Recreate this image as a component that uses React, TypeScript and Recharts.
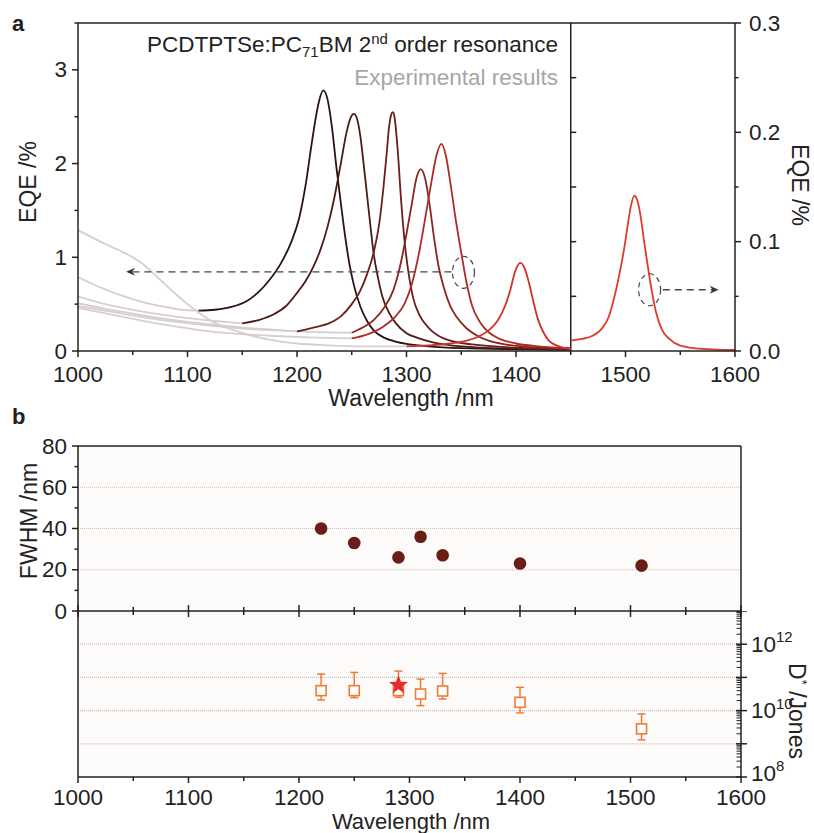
import React from "react";
import {
  ComposedChart, Line, Scatter, XAxis, YAxis, ReferenceLine, ReferenceDot, ReferenceArea, ErrorBar,
} from "recharts";

const FONT = "'Liberation Sans', Arial, Helvetica, sans-serif";
const INK = "#222";
const TICK_FS = 22.5;
const TITLE_FS = 23;

// ---- panel a: EQE spectra, [wavelength nm, EQE %] ----
// grey experimental lead-ins (left axis)
const gray1: [number, number][] = [[1000, 0.79], [1020, 0.68], [1040, 0.59], [1060, 0.52], [1080, 0.47], [1095, 0.44], [1110, 0.43]];
const gray2: [number, number][] = [[1000, 0.58], [1025, 0.5], [1050, 0.44], [1075, 0.39], [1100, 0.35], [1125, 0.32], [1150, 0.295]];
const gray3: [number, number][] = [[1000, 0.51], [1025, 0.45], [1050, 0.4], [1075, 0.35], [1100, 0.31], [1125, 0.28], [1150, 0.25], [1175, 0.23], [1200, 0.21]];
const gray4: [number, number][] = [[1000, 0.48], [1030, 0.42], [1060, 0.36], [1090, 0.31], [1120, 0.27], [1150, 0.24], [1180, 0.22], [1210, 0.205], [1250, 0.195]];
const gray5: [number, number][] = [[1000, 0.46], [1030, 0.39], [1060, 0.32], [1090, 0.26], [1120, 0.21], [1150, 0.18], [1180, 0.16], [1210, 0.145], [1250, 0.135]];
const gray6: [number, number][] = [[1000, 1.29], [1020, 1.17], [1040, 1.06], [1050, 1.0], [1060, 0.92], [1075, 0.76], [1090, 0.6], [1100, 0.5], [1110, 0.41], [1125, 0.3], [1140, 0.23], [1160, 0.16], [1180, 0.11], [1200, 0.08], [1230, 0.06], [1260, 0.05], [1300, 0.05]];

// simulated resonances (left axis)
const peak1: [number, number][] = [[1110, 0.43], [1125, 0.44], [1140, 0.47], [1155, 0.54], [1165, 0.63], [1175, 0.76], [1185, 0.93], [1195, 1.17], [1202, 1.42], [1208, 1.78], [1213, 2.18], [1217, 2.48], [1220, 2.66], [1224, 2.78], [1228, 2.68], [1232, 2.38], [1236, 1.96], [1240, 1.58], [1244, 1.22], [1248, 0.92], [1252, 0.7], [1258, 0.47], [1264, 0.32], [1270, 0.22], [1280, 0.14], [1290, 0.1], [1300, 0.075], [1320, 0.05], [1350, 0.03], [1400, 0.018], [1450, 0.012]];
const peak2: [number, number][] = [[1150, 0.295], [1165, 0.33], [1180, 0.4], [1190, 0.48], [1200, 0.62], [1208, 0.75], [1215, 0.9], [1222, 1.1], [1228, 1.33], [1234, 1.63], [1240, 2.0], [1245, 2.32], [1249, 2.49], [1252, 2.53], [1255, 2.47], [1258, 2.28], [1261, 1.98], [1264, 1.66], [1267, 1.34], [1270, 1.04], [1274, 0.78], [1278, 0.58], [1284, 0.41], [1290, 0.3], [1300, 0.19], [1310, 0.14], [1325, 0.09], [1350, 0.05], [1400, 0.025], [1450, 0.015]];
const peak3: [number, number][] = [[1200, 0.21], [1215, 0.25], [1230, 0.3], [1240, 0.37], [1250, 0.5], [1258, 0.65], [1264, 0.82], [1270, 1.05], [1275, 1.35], [1279, 1.75], [1282, 2.12], [1284, 2.38], [1286, 2.52], [1287.5, 2.55], [1289, 2.5], [1292, 2.14], [1295, 1.62], [1298, 1.2], [1302, 0.82], [1306, 0.57], [1312, 0.38], [1320, 0.25], [1328, 0.17], [1340, 0.11], [1360, 0.07], [1400, 0.035], [1450, 0.02]];
const peak4: [number, number][] = [[1250, 0.195], [1260, 0.25], [1270, 0.33], [1280, 0.47], [1288, 0.65], [1295, 0.95], [1300, 1.25], [1305, 1.58], [1309, 1.84], [1313, 1.94], [1317, 1.84], [1321, 1.57], [1325, 1.22], [1329, 0.92], [1334, 0.68], [1340, 0.48], [1346, 0.36], [1355, 0.24], [1365, 0.16], [1375, 0.11], [1390, 0.07], [1410, 0.045], [1450, 0.025]];
const peak5: [number, number][] = [[1250, 0.135], [1265, 0.18], [1280, 0.27], [1290, 0.37], [1298, 0.5], [1305, 0.72], [1312, 1.08], [1318, 1.48], [1323, 1.82], [1327, 2.07], [1332, 2.21], [1336, 2.08], [1340, 1.8], [1345, 1.4], [1350, 1.05], [1355, 0.72], [1360, 0.48], [1367, 0.31], [1375, 0.2], [1385, 0.13], [1400, 0.08], [1420, 0.05], [1450, 0.03]];
const peak6: [number, number][] = [[1300, 0.05], [1320, 0.06], [1340, 0.08], [1355, 0.11], [1365, 0.15], [1375, 0.22], [1383, 0.32], [1390, 0.48], [1395, 0.66], [1399, 0.84], [1404, 0.94], [1408, 0.88], [1412, 0.72], [1416, 0.52], [1420, 0.34], [1425, 0.2], [1430, 0.11], [1437, 0.06], [1445, 0.03], [1450, 0.02]];
// beyond 1450 nm (right axis)
const peakRight: [number, number][] = [[1450, 0.0094], [1460, 0.011], [1470, 0.014], [1478, 0.02], [1485, 0.032], [1490, 0.05], [1495, 0.073], [1499, 0.095], [1502, 0.115], [1505, 0.133], [1508, 0.142], [1511, 0.137], [1514, 0.122], [1517, 0.1], [1520, 0.08], [1524, 0.055], [1528, 0.035], [1533, 0.02], [1540, 0.011], [1550, 0.005], [1570, 0.002], [1600, 0.001]];

const grays = [gray1, gray2, gray3, gray4, gray5, gray6];
const peaks = [peak1, peak2, peak3, peak4, peak5, peak6];
const peakColors = ["#2b1512", "#4b1b17", "#6a1f1b", "#8c2520", "#ae2b25", "#cf3129"];

const xTicks = [1000, 1050, 1100, 1150, 1200, 1250, 1300, 1350, 1400, 1450, 1500, 1550, 1600];
const eqeLeftTicks = [0, 0.5, 1, 1.5, 2, 2.5, 3, 3.5];
const eqeRightTicks = [0, 0.05, 0.1, 0.15, 0.2, 0.25, 0.3];
const dividerTicks = [0.05, 0.1, 0.15, 0.2, 0.25];

// ---- panel b: FWHM and detectivity ----
const resWl = [1220, 1250, 1290, 1310, 1330, 1400, 1510];
const fwhm = [40, 33, 26, 36, 27, 23, 22];
const fwhmTicks = [0, 10, 20, 30, 40, 50, 60, 70, 80];
const fwhmGrid = [20, 40, 60];

// log10 of D* (Jones)
const detLog = [10.6, 10.6, 10.6, 10.5, 10.59, 10.25, 9.45];
const detLogLow = [10.32, 10.39, 10.4, 10.15, 10.35, 9.93, 9.12];
const detLogHigh = [11.1, 11.15, 11.19, 10.95, 11.12, 10.7, 9.9];
const starWl = [1290];
const starLog = [10.77];
const detExp = [8, 9, 10, 11, 12, 13];
const detLabelExp = [8, 10, 12];
const detGrid = [1e9, 1e10, 1e11, 1e12];

const toPts = (a: [number, number][]) => a.map(([x, y]) => ({ x, y }));
const fwhmData = resWl.map((x, i) => ({ x, y: fwhm[i] }));
const detData = resWl.map((x, i) => {
  const y = Math.pow(10, detLog[i]);
  return { x, y, err: [y - Math.pow(10, detLogLow[i]), Math.pow(10, detLogHigh[i]) - y] };
});
const starData = starWl.map((x, i) => ({ x, y: Math.pow(10, starLog[i]) }));
const logTicks: number[] = [];
detExp.forEach((e) => {
  if (e === 13) { logTicks.push(1e13); return; }
  for (let k = 1; k < 10; k++) logTicks.push(k * Math.pow(10, e));
});

const txt = { fontFamily: FONT, fill: INK };

function BottomTick(props: any) {
  const { x, y, payload, labels, cross, gap = 23 } = props;
  const v = payload.value;
  const major = v % 100 === 0;
  const len = major ? 6 : 4;
  return (
    <g>
      <line x1={x} x2={x} y1={cross ? y - len : y} y2={y + len} stroke={INK} strokeWidth={1.5} />
      {labels && major && (
        <text x={x} y={y + gap} textAnchor="middle" dominantBaseline="central" fontSize={TICK_FS} {...txt}>{v}</text>
      )}
    </g>
  );
}

function LeftTick(props: any) {
  const { x, y, payload, isMajor, fmt } = props;
  const v = payload.value;
  const major = isMajor(v);
  return (
    <g>
      <line x1={x - (major ? 6 : 3.5)} x2={x} y1={y} y2={y} stroke={INK} strokeWidth={1.5} />
      {major && (
        <text x={x - 11} y={y} textAnchor="end" dominantBaseline="central" fontSize={TICK_FS} {...txt}>{fmt(v)}</text>
      )}
    </g>
  );
}

function RightEqeTick(props: any) {
  const { x, y, payload } = props;
  const v = payload.value;
  const major = Math.round(v * 100) % 10 === 0;
  return (
    <g>
      <line x1={x} x2={x + (major ? 6 : 3.5)} y1={y} y2={y} stroke={INK} strokeWidth={1.5} />
      {major && (
        <text x={x + 14} y={y} textAnchor="start" dominantBaseline="central" fontSize={TICK_FS} {...txt}>{v.toFixed(1)}</text>
      )}
    </g>
  );
}

function LogTick(props: any) {
  const { x, y, payload } = props;
  const e = Math.log10(payload.value);
  const major = Math.abs(e - Math.round(e)) < 1e-6;
  const exp = Math.round(e);
  const shift = exp === 8 ? -4 : 0;
  return (
    <g>
      {major
        ? <line x1={x - 5} x2={x + 6} y1={y} y2={y} stroke={INK} strokeWidth={1.5} />
        : <line x1={x - 4.5} x2={x} y1={y} y2={y} stroke={INK} strokeWidth={1} />}
      {major && detLabelExp.includes(exp) && (
        <text x={x + 10} y={y + shift} dominantBaseline="central" fontSize={TICK_FS} {...txt}>
          10<tspan fontSize={15} dy={-8}>{exp}</tspan>
        </text>
      )}
    </g>
  );
}

const star = (p: any) => {
  const pts: string[] = [];
  for (let i = 0; i < 10; i++) {
    const r = i % 2 === 0 ? 10 : 4.2;
    const a = -Math.PI / 2 + (i * Math.PI) / 5;
    pts.push(`${p.cx + r * Math.cos(a)},${p.cy + r * Math.sin(a)}`);
  }
  return <polygon points={pts.join(" ")} fill="#e62c27" />;
};

const dashedEllipse = (p: any) => (
  <ellipse cx={p.cx} cy={p.cy} rx={11} ry={16} fill="none" stroke="#444" strokeWidth={1.2} strokeDasharray="5 4" />
);
const arrowLeft = (p: any) => (
  <path d={`M${p.cx},${p.cy} L${p.cx + 9},${p.cy - 4} L${p.cx + 6},${p.cy} L${p.cx + 9},${p.cy + 4} Z`} fill="#333" />
);
const arrowRight = (p: any) => (
  <path d={`M${p.cx},${p.cy} L${p.cx - 9},${p.cy - 4} L${p.cx - 6},${p.cy} L${p.cx - 9},${p.cy + 4} Z`} fill="#333" />
);

const axisLine = { stroke: INK, strokeWidth: 1.5 };
const gridStyle = { stroke: "#cdbdbd", strokeWidth: 1.2, strokeDasharray: "1 1" };
const panelBg = "#fcfbfa";

export default function App() {
  return (
    <div style={{ position: "absolute", left: 0, top: 0, width: 814, height: 833, background: "#fff", fontFamily: FONT }}>
      {/* panel a */}
      <div style={{ position: "absolute", left: 0, top: 0 }}>
        <ComposedChart width={814} height={420} margin={{ top: 23, right: 0, bottom: 0, left: 0 }}>
          <XAxis dataKey="x" type="number" domain={[1000, 1600]} ticks={xTicks} interval={0} allowDataOverflow
            height={69} tickSize={0} tickMargin={0} axisLine={axisLine}
            tick={(p: any) => <BottomTick {...p} labels />} />
          <YAxis yAxisId="l" type="number" domain={[0, 3.5]} ticks={eqeLeftTicks} interval={0} width={78}
            tickSize={0} tickMargin={0} axisLine={axisLine}
            tick={(p: any) => <LeftTick {...p} isMajor={(v: number) => Number.isInteger(v)} fmt={(v: number) => String(v)} />} />
          <YAxis yAxisId="r" orientation="right" type="number" domain={[0, 0.3]} ticks={eqeRightTicks} interval={0}
            width={79} tickSize={0} tickMargin={0} axisLine={axisLine} tick={(p: any) => <RightEqeTick {...p} />} />
          <ReferenceLine yAxisId="l" y={3.5} stroke={INK} strokeWidth={1.5} />
          <ReferenceLine yAxisId="l" x={1450} stroke={INK} strokeWidth={1.5} />
          {dividerTicks.map((t) => (
            <ReferenceLine key={t} yAxisId="r" segment={[{ x: 1450, y: t }, { x: 1455, y: t }]} stroke={INK} strokeWidth={1.5} />
          ))}
          {grays.map((g, i) => (
            <Line key={"g" + i} yAxisId="l" data={toPts(g)} dataKey="y" type="monotone" stroke="#d6cfcd"
              strokeWidth={1.8} dot={false} activeDot={false} isAnimationActive={false} />
          ))}
          {peaks.map((pk, i) => (
            <Line key={"p" + i} yAxisId="l" data={toPts(pk)} dataKey="y" type="monotone" stroke={peakColors[i]}
              strokeWidth={1.8} dot={false} activeDot={false} isAnimationActive={false} />
          ))}
          <Line yAxisId="r" data={toPts(peakRight)} dataKey="y" type="monotone" stroke="#e03a2d"
            strokeWidth={1.8} dot={false} activeDot={false} isAnimationActive={false} />
          <ReferenceLine yAxisId="l" segment={[{ x: 1341, y: 0.845 }, { x: 1050, y: 0.845 }]}
            stroke="#444" strokeWidth={1.3} strokeDasharray="7 5" />
          <ReferenceDot yAxisId="l" x={1044} y={0.845} ifOverflow="visible" shape={arrowLeft} />
          <ReferenceDot yAxisId="l" x={1352} y={0.84} ifOverflow="visible" shape={dashedEllipse} />
          <ReferenceLine yAxisId="r" segment={[{ x: 1534, y: 0.056 }, { x: 1580, y: 0.056 }]}
            stroke="#444" strokeWidth={1.3} strokeDasharray="7 5" />
          <ReferenceDot yAxisId="r" x={1585} y={0.056} ifOverflow="visible" shape={arrowRight} />
          <ReferenceDot yAxisId="r" x={1522} y={0.056} ifOverflow="visible" shape={dashedEllipse} />
        </ComposedChart>
      </div>

      {/* panel b, lower half: detectivity */}
      <div style={{ position: "absolute", left: 0, top: 611 }}>
        <ComposedChart width={814} height={222} margin={{ top: 0, right: 0, bottom: 0, left: 0 }}>
          <XAxis dataKey="x" type="number" domain={[1000, 1600]} ticks={xTicks} interval={0}
            height={56} tickSize={0} tickMargin={0} axisLine={axisLine}
            tick={(p: any) => <BottomTick {...p} labels gap={20} />} />
          <YAxis yAxisId="d" orientation="right" type="number" scale="log" domain={[1e8, 1e13]} allowDataOverflow
            ticks={logTicks} interval={0} width={73} tickSize={0} tickMargin={0} axisLine={axisLine}
            tick={(p: any) => <LogTick {...p} />} />
          <YAxis yAxisId="dl" type="number" domain={[0, 1]} width={78} tick={false} tickLine={false} axisLine={axisLine} />
          <ReferenceArea yAxisId="d" x1={1000} x2={1600} y1={1e8} y2={1e13} fill={panelBg} fillOpacity={1} />
          {detGrid.map((g) => (
            <ReferenceLine key={g} yAxisId="d" y={g} {...gridStyle} />
          ))}
          <Scatter yAxisId="d" data={detData} dataKey="y" isAnimationActive={false}
            shape={(p: any) => <rect x={p.cx - 5} y={p.cy - 5} width={10} height={10} fill="#fff" stroke="#f07a35" strokeWidth={1.6} />}>
            <ErrorBar dataKey="err" direction="y" width={4} stroke="#f07a35" strokeWidth={1.5} isAnimationActive={false} />
          </Scatter>
          <Scatter yAxisId="d" data={starData} dataKey="y" isAnimationActive={false} shape={star} />
        </ComposedChart>
      </div>

      {/* panel b, upper half: FWHM */}
      <div style={{ position: "absolute", left: 0, top: 420 }}>
        <ComposedChart width={814} height={212} margin={{ top: 26, right: 0, bottom: 0, left: 0 }}>
          <XAxis dataKey="x" type="number" domain={[1000, 1600]} ticks={xTicks} interval={0}
            height={21} tickSize={0} tickMargin={0} axisLine={axisLine}
            tick={(p: any) => <BottomTick {...p} cross />} />
          <YAxis yAxisId="f" type="number" domain={[0, 80]} ticks={fwhmTicks} interval={0} width={78}
            tickSize={0} tickMargin={0} axisLine={axisLine}
            tick={(p: any) => <LeftTick {...p} isMajor={(v: number) => v % 20 === 0} fmt={(v: number) => String(v)} />} />
          <YAxis yAxisId="fr" orientation="right" type="number" domain={[0, 1]} width={73} tick={false} tickLine={false} axisLine={axisLine} />
          <ReferenceArea yAxisId="f" x1={1000} x2={1600} y1={0} y2={80} fill={panelBg} fillOpacity={1} />
          {fwhmGrid.map((g) => (
            <ReferenceLine key={g} yAxisId="f" y={g} {...gridStyle} />
          ))}
          <ReferenceLine yAxisId="f" y={80} stroke={INK} strokeWidth={1.5} />
          <Scatter yAxisId="f" data={fwhmData} dataKey="y" isAnimationActive={false}
            shape={(p: any) => <circle cx={p.cx} cy={p.cy} r={6.3} fill="#6a1d17" />} />
        </ComposedChart>
      </div>

      {/* titles and annotations */}
      <svg width={814} height={833} style={{ position: "absolute", left: 0, top: 0, pointerEvents: "none" }}>
        <text x={12} y={31} fontSize={22} fontWeight="bold" {...txt}>a</text>
        <text x={12} y={424} fontSize={22} fontWeight="bold" {...txt}>b</text>
        <text x={558} y={52} textAnchor="end" fontSize={22.5} {...txt}>
          PCDTPTSe:PC<tspan fontSize={15} dy={5}>71</tspan><tspan dy={-5}>BM 2</tspan>
          <tspan fontSize={15} dy={-8}>nd</tspan><tspan dy={8}> order resonance</tspan>
        </text>
        <text x={558} y={85} textAnchor="end" fontSize={22.5} fontFamily={FONT} fill="#a6a6a6">Experimental results</text>
        <text x={28} y={182} transform="rotate(-90 28 182)" textAnchor="middle" dominantBaseline="central" fontSize={TITLE_FS} {...txt}>EQE /%</text>
        <text x={800} y={185} transform="rotate(90 800 185)" textAnchor="middle" dominantBaseline="central" fontSize={TITLE_FS} {...txt}>EQE /%</text>
        <text x={411} y={398} textAnchor="middle" dominantBaseline="central" fontSize={TITLE_FS} {...txt}>Wavelength /nm</text>
        <text x={29} y={521} transform="rotate(-90 29 521)" textAnchor="middle" dominantBaseline="central" fontSize={TITLE_FS} {...txt}>FWHM /nm</text>
        <text x={797} y={711} transform="rotate(90 797 711)" textAnchor="middle" dominantBaseline="central" fontSize={TITLE_FS} {...txt}>
          D<tspan fontSize={13} dy={-6}>*</tspan><tspan dy={6}> /Jones</tspan>
        </text>
        <text x={411} y={821} textAnchor="middle" dominantBaseline="central" fontSize={22} {...txt}>Wavelength /nm</text>
      </svg>
    </div>
  );
}
